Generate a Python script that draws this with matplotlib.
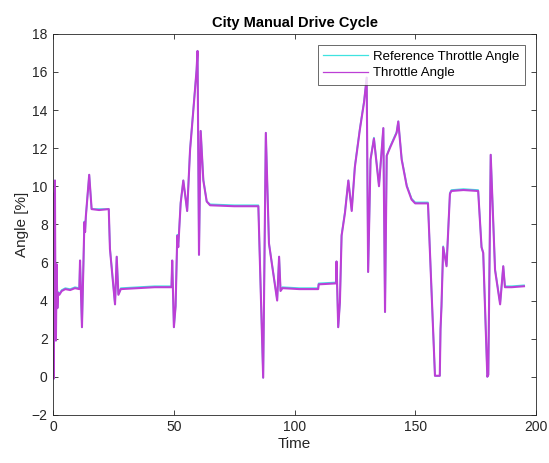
from __future__ import annotations

from dataclasses import dataclass

import matplotlib as mpl
import matplotlib.pyplot as plt


# =============================================================================
# City manual drive cycle: reference vs measured throttle angle
# =============================================================================

# Time stamps of the key points (shared by both traces)
cycle_time = [
    0.0, 0.2, 0.4, 0.7, 0.9, 1.1, 1.4, 1.7, 2.0, 2.5, 3.5, 5.0, 7.0, 9.0, 10.8,
    11.1, 11.9, 12.9, 13.2, 13.5, 14.9, 15.9, 19.0, 23.0, 23.5, 25.6, 26.3, 27.0,
    28.0, 35.0, 42.0, 49.0, 49.3, 50.0, 50.7, 51.4, 51.8, 52.8, 53.9, 55.5, 56.7,
    58.0, 59.4, 59.8, 60.4, 61.1, 62.2, 63.6, 65.0, 75.0, 85.0, 87.0, 88.1, 89.4,
    92.8, 93.6, 94.2, 95.0, 102.0, 109.8, 110.0, 117.2, 117.4, 118.1, 118.8,
    119.5, 120.9, 122.3, 123.7, 125.0, 127.1, 128.8, 129.9, 130.5, 131.5, 132.9,
    135.0, 136.8, 137.5, 138.2, 139.5, 142.3, 143.0, 144.4, 146.5, 148.5, 150.0,
    155.3, 158.2, 160.2, 160.5, 160.9, 161.6, 163.0, 164.4, 165.0, 170.0, 176.1,
    177.5, 178.2, 179.9, 180.3, 181.3, 183.1, 185.2, 186.5, 187.2, 190.0, 195.1,
]

# Measured throttle angle [%]
throttle_angle = [
    9.6, -0.1, 9.0, 10.3, 3.0, 1.9, 5.9, 3.6, 4.4, 4.3, 4.5, 4.6, 4.55, 4.65, 4.6,
    6.1, 2.6, 8.1, 7.6, 8.4, 10.6, 8.8, 8.75, 8.8, 6.7, 3.8, 6.3, 4.3,
    4.6, 4.65, 4.7, 4.7, 6.1, 2.6, 3.7, 7.4, 6.8, 9.1, 10.3, 8.7, 11.9,
    13.9, 16.1, 17.1, 6.4, 12.9, 10.3, 9.2, 9.0, 8.95, 8.95, -0.05, 12.8, 7.0,
    4.0, 6.3, 4.5, 4.65, 4.6, 4.6, 4.85, 4.9, 6.05, 2.6, 3.9,
    7.4, 8.6, 10.3, 8.7, 11.0, 13.0, 14.4, 15.7, 5.5, 11.4, 12.5,
    10.0, 13.05, 3.4, 11.6, 12.0, 12.8, 13.4, 11.4, 10.0, 9.3, 9.1,
    9.1, 0.05, 0.05, 2.5, 3.7, 6.8, 5.8, 9.6, 9.75, 9.8, 9.75,
    6.8, 6.5, 0.0, 0.1, 11.65, 5.6, 3.8, 5.8, 4.7, 4.7, 4.75,
]

# Reference throttle angle [%] (almost hidden under the measured trace)
reference_angle = [
    9.6, -0.1, 9.0, 10.3, 3.0, 1.9, 5.9, 3.6, 4.45, 4.35, 4.55, 4.65, 4.6, 4.7, 4.65,
    6.1, 2.6, 8.15, 7.6, 8.4, 10.6, 8.8, 8.8, 8.8, 6.75, 3.8, 6.3, 4.35,
    4.65, 4.7, 4.75, 4.75, 6.1, 2.6, 3.7, 7.45, 6.85, 9.15, 10.3, 8.7, 11.95,
    13.95, 16.1, 17.1, 6.4, 12.9, 10.35, 9.2, 9.05, 9.0, 9.0, -0.05, 12.8, 7.0,
    4.05, 6.3, 4.55, 4.7, 4.65, 4.65, 4.9, 4.95, 6.05, 2.6, 3.9,
    7.45, 8.65, 10.3, 8.75, 11.05, 13.05, 14.45, 15.7, 5.5, 11.4, 12.55,
    10.05, 13.05, 3.4, 11.6, 12.05, 12.85, 13.4, 11.45, 10.05, 9.35, 9.15,
    9.15, 0.05, 0.05, 2.5, 3.7, 6.85, 5.85, 9.65, 9.8, 9.85, 9.8,
    6.8, 6.5, 0.0, 0.1, 11.65, 5.65, 3.85, 5.8, 4.75, 4.75, 4.8,
]

x_ticks = [0, 50, 100, 150, 200]
y_ticks = [-2, 0, 2, 4, 6, 8, 10, 12, 14, 16, 18]


@dataclass(frozen=True)
class FigureParameters:
    fig_width: float = 5.49
    fig_height: float = 4.63
    dpi: int = 100
    title_size: float = 10.5
    label_size: float = 11
    tick_size: float = 10
    legend_size: float = 9.5
    throttle_color: str = "#BC3FD6"
    reference_color: str = "#3FE3E0"


FP = FigureParameters()


def setup_style() -> None:
    mpl.rcParams.update({
        "font.family": ["Liberation Sans", "DejaVu Sans"],
        "axes.edgecolor": "#262626",
        "axes.linewidth": 0.6,
        "xtick.color": "#262626",
        "ytick.color": "#262626",
        "xtick.direction": "in",
        "ytick.direction": "in",
        "xtick.top": True,
        "ytick.right": True,
        "xtick.major.size": 3.5,
        "ytick.major.size": 3.5,
        "xtick.major.width": 0.6,
        "ytick.major.width": 0.6,
    })


def draw() -> plt.Figure:
    fig = plt.figure(figsize=(FP.fig_width, FP.fig_height), dpi=FP.dpi)
    ax = fig.add_axes([0.097, 0.104, 0.879, 0.823])

    ax.plot(cycle_time, reference_angle, color=FP.reference_color, lw=1.2,
            label="Reference Throttle Angle")
    ax.plot(cycle_time, throttle_angle, color=FP.throttle_color, lw=1.5,
            label="Throttle Angle")

    ax.set_xlim(0, 200)
    ax.set_ylim(-2, 18)
    ax.set_xticks(x_ticks)
    ax.set_yticks(y_ticks)
    ax.tick_params(labelsize=FP.tick_size, pad=4)

    ax.set_xlabel("Time", fontsize=FP.label_size, color="#262626", labelpad=2)
    ax.set_ylabel("Angle [%]", fontsize=FP.label_size, color="#262626", labelpad=2)
    ax.set_title("City Manual Drive Cycle", fontsize=FP.title_size,
                 fontweight="bold", pad=5)

    leg = ax.legend(loc="upper right", fontsize=FP.legend_size, frameon=True,
                    fancybox=False, borderaxespad=0.85, handlelength=3.4,
                    handletextpad=0.4, borderpad=0.4, labelspacing=0.35)
    leg.get_frame().set_edgecolor("#262626")
    leg.get_frame().set_linewidth(0.6)
    for line in leg.get_lines():
        line.set_linewidth(0.9)
    return fig


def make_figure() -> None:
    setup_style()
    fig = draw()
    fig.savefig("out.png", dpi=FP.dpi)
    plt.close(fig)


if __name__ == "__main__":
    make_figure()
